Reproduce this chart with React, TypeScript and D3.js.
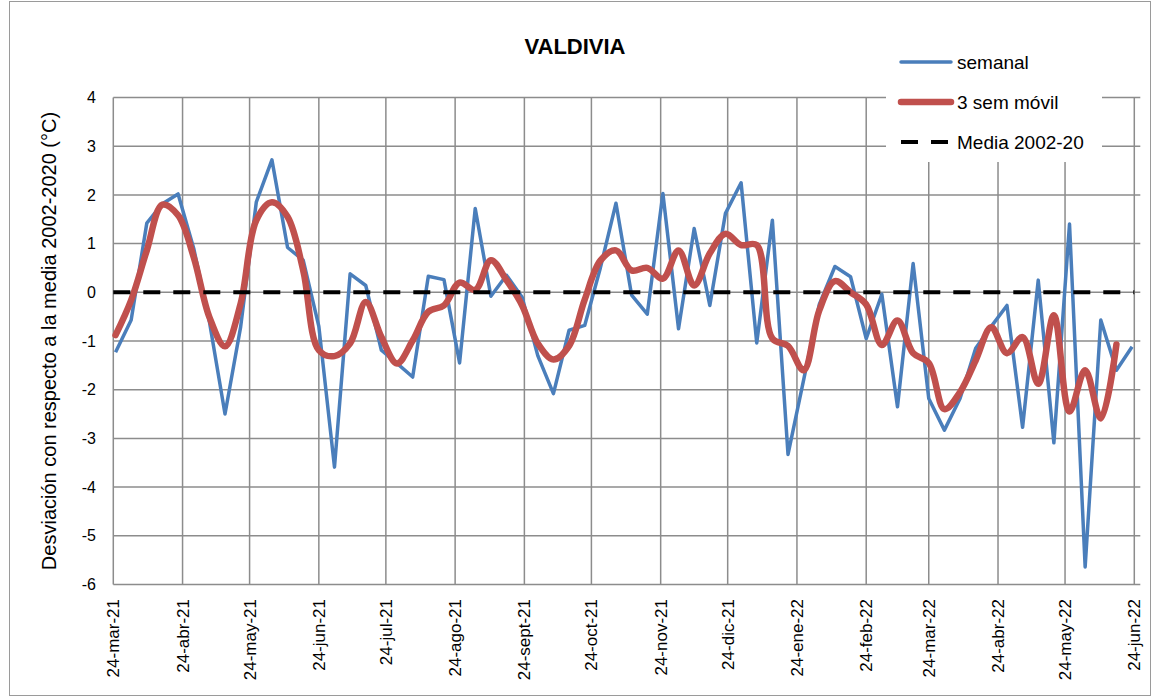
import React, { useEffect, useRef } from 'react';
import * as d3 from 'd3';

// weekly deviation (°C), first week 25-mar-21
const semanal = [
  -1.23, -0.57, 1.42, 1.82, 2.02, 0.9, -0.6, -2.5, -0.71, 1.85,
  2.72, 0.92, 0.66, -0.7, -3.59, 0.38, 0.14, -1.19, -1.46, -1.74,
  0.33, 0.26, -1.45, 1.72, -0.08, 0.35, -0.1, -1.3, -2.08, -0.78,
  -0.68, 0.5, 1.83, -0.06, -0.45, 2.03, -0.75, 1.31, -0.27, 1.62,
  2.25, -1.04, 1.48, -3.33, -1.8, -0.25, 0.53, 0.32, -0.95, -0.04,
  -2.35, 0.59, -2.18, -2.83, -2.18, -1.15, -0.7, -0.27, -2.77, 0.25,
  -3.09, 1.4, -5.64, -0.57, -1.6, -1.12
];

const movil = [
  -0.88, -0.16, 0.86, 1.8, 1.58, 0.72, -0.51, -1.11, -0.23, 1.48,
  1.85, 1.55, 0.45, -1.19, -1.31, -1.05, -0.2, -0.92, -1.46, -0.99,
  -0.4, -0.27, 0.2, 0.05, 0.66, 0.25, -0.27, -1.05, -1.38, -1.1,
  -0.15, 0.65, 0.86, 0.45, 0.5, 0.28, 0.86, 0.14, 0.8, 1.2,
  0.97, 0.97, -0.95, -1.1, -1.6, -0.37, 0.23, 0.0, -0.25, -1.08,
  -0.58, -1.25, -1.45, -2.4, -2.05, -1.4, -0.72, -1.25, -0.92, -1.88,
  -0.47, -2.45, -1.6, -2.59, -1.07
];

const media = 0;

const monthLabels = [
  '24-mar-21', '24-abr-21', '24-may-21', '24-jun-21', '24-jul-21', '24-ago-21',
  '24-sept-21', '24-oct-21', '24-nov-21', '24-dic-21', '24-ene-22', '24-feb-22',
  '24-mar-22', '24-abr-22', '24-may-22', '24-jun-22'
];

const yTicks = [4, 3, 2, 1, 0, -1, -2, -3, -4, -5, -6];

const firstWeek = new Date(2021, 2, 25);
const xStart = new Date(2021, 2, 24);
const xEnd = new Date(2022, 5, 24);

const FONT = '"Liberation Sans", Arial, sans-serif';

const App = () => {
  const svgRef = useRef(null);

  useEffect(() => {
    const svg = d3.select(svgRef.current);
    svg.selectAll('*').remove();

    const x = d3.scaleTime().domain([xStart, xEnd]).range([113.3, 1134.3]);
    const y = d3.scaleLinear().domain([-6, 4]).range([584.5, 97.5]);

    const weekDate = (i) => d3.timeDay.offset(firstWeek, 7 * i);
    const monthDates = monthLabels.map((_, i) => d3.timeMonth.offset(xStart, i));

    // outer frame
    svg.append('rect')
      .attr('x', 9.5).attr('y', 1.5)
      .attr('width', 1141).attr('height', 694)
      .attr('fill', 'white')
      .attr('stroke', '#9a9a9a');

    // title
    svg.append('text')
      .text('VALDIVIA')
      .attr('x', 575).attr('y', 54)
      .attr('text-anchor', 'middle')
      .attr('font-family', FONT)
      .attr('font-weight', 'bold')
      .attr('font-size', '22px');

    // grid
    const grid = svg.append('g').attr('stroke', '#8c8c8c').attr('stroke-width', 1.5);
    grid.selectAll('.h').data(yTicks).join('line')
      .attr('x1', x(xStart)).attr('x2', x(xEnd) + 6)
      .attr('y1', d => y(d)).attr('y2', d => y(d));
    grid.selectAll('.v').data(monthDates).join('line')
      .attr('x1', d => x(d)).attr('x2', d => x(d))
      .attr('y1', y(4)).attr('y2', y(-6));

    // y axis labels
    svg.append('g').selectAll('text').data(yTicks).join('text')
      .text(d => d)
      .attr('x', 96).attr('y', d => y(d))
      .attr('dy', '0.35em')
      .attr('text-anchor', 'end')
      .attr('font-family', FONT)
      .attr('font-size', '16px');

    // x axis labels
    svg.append('g').selectAll('text').data(monthDates).join('text')
      .text((d, i) => monthLabels[i])
      .attr('transform', d => `translate(${x(d) + 6},599) rotate(-90)`)
      .attr('text-anchor', 'end')
      .attr('font-family', FONT)
      .attr('font-size', '17px');

    // y title
    svg.append('text')
      .text('Desviación con respecto a la media 2002-2020 (°C)')
      .attr('transform', `translate(56,${y(-1)}) rotate(-90)`)
      .attr('text-anchor', 'middle')
      .attr('font-family', FONT)
      .attr('font-size', '20px');

    const line = d3.line()
      .x((d, i) => x(weekDate(i)))
      .y(d => y(d));

    svg.append('path')
      .datum(semanal)
      .attr('d', line)
      .attr('fill', 'none')
      .attr('stroke', '#4a7ebb')
      .attr('stroke-width', 3.5)
      .attr('stroke-linejoin', 'round');

    svg.append('path')
      .datum(movil)
      .attr('d', line.curve(d3.curveCatmullRom.alpha(0.5)))
      .attr('fill', 'none')
      .attr('stroke', '#c0504d')
      .attr('stroke-width', 6.5)
      .attr('stroke-linecap', 'round')
      .attr('stroke-linejoin', 'round');

    svg.append('line')
      .attr('x1', x(xStart)).attr('x2', x(xEnd))
      .attr('y1', y(media)).attr('y2', y(media))
      .attr('stroke', 'black')
      .attr('stroke-width', 4)
      .attr('stroke-dasharray', '17,13');

    // legend
    const lg = svg.append('g');
    lg.append('rect')
      .attr('x', 886).attr('y', 40)
      .attr('width', 216).attr('height', 122)
      .attr('fill', 'white');
    const items = [
      { label: 'semanal', color: '#4a7ebb', width: 3.5, dash: null, cy: 62 },
      { label: '3 sem móvil', color: '#c0504d', width: 6.5, dash: null, cy: 102 },
      { label: 'Media 2002-20', color: 'black', width: 4, dash: '17,13', cy: 142 }
    ];
    items.forEach(it => {
      lg.append('line')
        .attr('x1', 901).attr('x2', 951)
        .attr('y1', it.cy).attr('y2', it.cy)
        .attr('stroke', it.color)
        .attr('stroke-width', it.width)
        .attr('stroke-linecap', it.dash ? 'butt' : 'round')
        .attr('stroke-dasharray', it.dash);
      lg.append('text')
        .text(it.label)
        .attr('x', 957).attr('y', it.cy)
        .attr('dy', '0.35em')
        .attr('font-family', FONT)
        .attr('font-size', '19px');
    });
  }, []);

  return (
    <svg ref={svgRef} width={1156} height={698}
      style={{ position: 'absolute', left: 0, top: 0 }} />
  );
};

export default App;
